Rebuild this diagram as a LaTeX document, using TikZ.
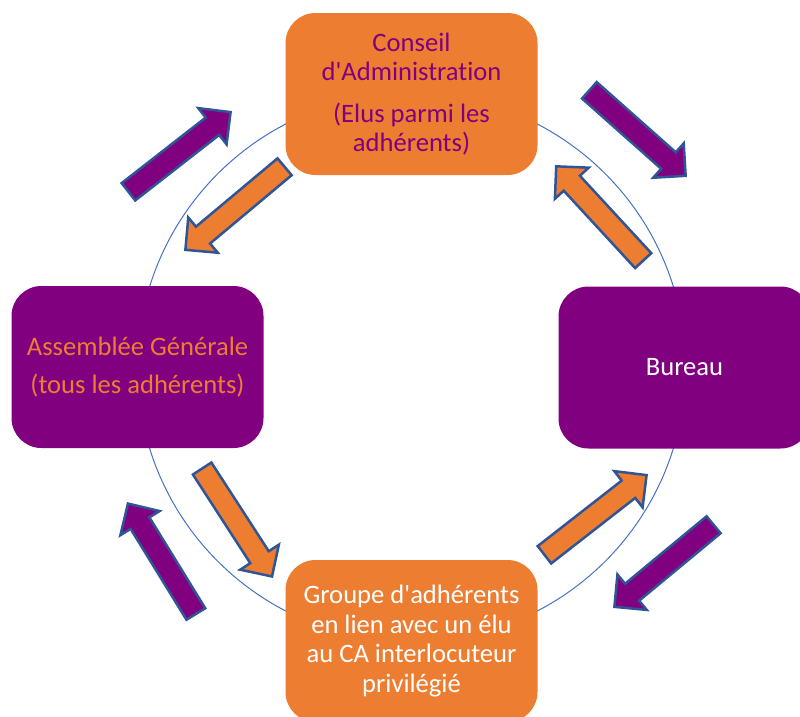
\documentclass[tikz,border=0pt]{standalone}
\usepackage{fontspec}
\setmainfont{Carlito}[Ligatures={NoCommon,TeXOff}]
\usetikzlibrary{calc}
\definecolor{cOrange}{HTML}{ED7D31}
\definecolor{cPurple}{HTML}{800080}
\definecolor{cCircle}{HTML}{4472C4}
\definecolor{cEdge}{HTML}{2F5597}
\tikzset{
  blockarr/.style={draw=cEdge, line width=2.5pt, line join=miter},
  roundbox/.style={rounded corners=30pt, inner sep=0pt, minimum width=252pt, minimum height=162pt, align=center, font=\fontsize{26.6}{29.5}\selectfont},
}
% #1 fill, #2 name, #3 tail, #4 tip
\newcommand{\blockarrow}[4]{%
  \coordinate (#2rt) at (#3);
  \coordinate (#2rp) at (#4);
  \coordinate (#2t) at ($(#2rt)!1.2pt!(#2rp)$);
  \coordinate (#2p) at ($(#2rp)!1.8pt!(#2rt)$);
  \coordinate (#2h) at ($(#2p)!23pt!(#2t)$);
  \draw[blockarr, fill=#1]
    ($(#2t)!11pt!90:(#2p)$) -- ($(#2h)!11pt!-90:(#2t)$) -- ($(#2h)!23pt!-90:(#2t)$)
    -- (#2p) -- ($(#2h)!23pt!90:(#2t)$) -- ($(#2h)!11pt!90:(#2t)$)
    -- ($(#2t)!11pt!-90:(#2p)$) -- cycle;
}
\begin{document}
\begin{tikzpicture}[x=1pt, y=-1pt]
\useasboundingbox (0,0) rectangle (800,716);
\clip (0,0) rectangle (800,716);
\coordinate (ctr) at (411.5,367.5);
\draw[cCircle, line width=1pt] (ctr) circle (274pt);

\node[roundbox, fill=cOrange, text=cPurple] (ca) at (411.5,94)
  {Conseil\\d'Administration\\[12pt](Elus parmi les\\adhérents)};
\node[roundbox, fill=cPurple, text=cOrange] (ag) at (137.5,367)
  {Assemblée Générale\\[8pt](tous les adhérents)};
\node[roundbox, fill=cPurple, text=white] (bu) at (684.5,367.5) {Bureau};
\node[roundbox, fill=cOrange, text=white] (gr) at (411.5,641)
  {Groupe d'adhérents\\en lien avec un élu\\au CA interlocuteur\\privilégié};

\blockarrow{cPurple}{a}{127.5,192.5}{232,111}
\blockarrow{cOrange}{b}{285.5,166}{184,251}
\blockarrow{cPurple}{c}{588.5,89.5}{687,177}
\blockarrow{cOrange}{d}{644,261.5}{555,165}
\blockarrow{cPurple}{e}{196.5,615}{127,502}
\blockarrow{cOrange}{f}{201.5,467.5}{273,578}
\blockarrow{cOrange}{g}{543.5,555.5}{648,474}
\blockarrow{cPurple}{k}{714.5,524}{613,608}
\end{tikzpicture}
\end{document}
